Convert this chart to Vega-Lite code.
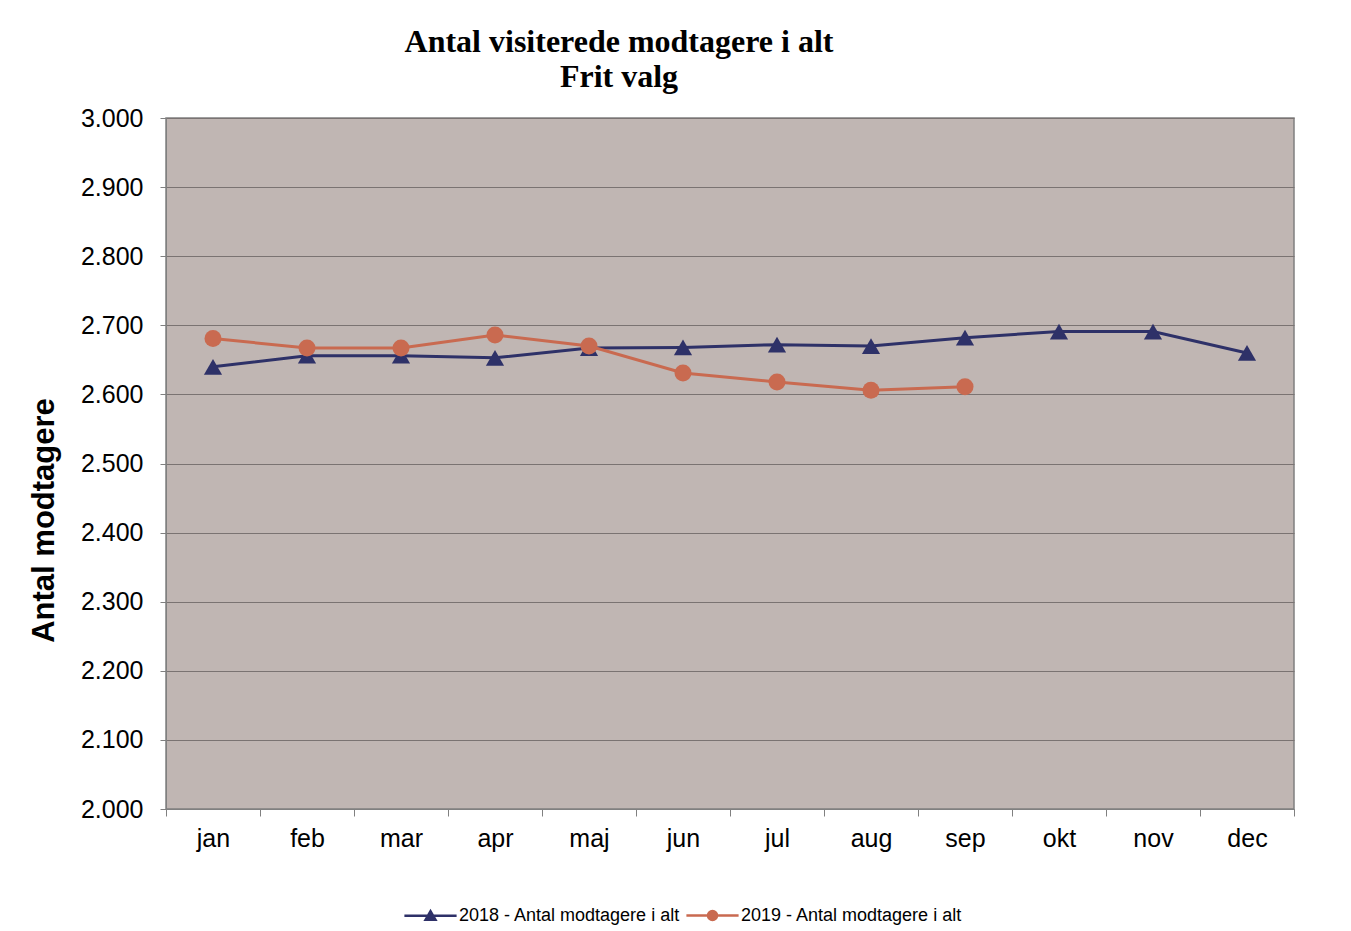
{
  "$schema": "https://vega.github.io/schema/vega-lite/v6.json",
  "autosize": {"type": "none"},
  "padding": {"left": 166, "top": 118, "right": 57, "bottom": 122},
  "width": 1128,
  "height": 691,
  "background": "white",
  "title": {
    "text": ["Antal visiterede modtagere i alt", "Frit valg"],
    "font": "Liberation Serif",
    "fontSize": 32,
    "fontWeight": "bold",
    "color": "black",
    "anchor": "middle",
    "dx": -111,
    "offset": 12,
    "lineHeight": 35
  },
  "config": {
    "view": {"stroke": "#808080", "strokeWidth": 1.5, "fill": "#C0B6B3"}
  },
  "data": {
    "values": [
      {"month": "jan", "series": "2018 - Antal modtagere i alt", "value": 2640},
      {"month": "feb", "series": "2018 - Antal modtagere i alt", "value": 2656},
      {"month": "mar", "series": "2018 - Antal modtagere i alt", "value": 2656},
      {"month": "apr", "series": "2018 - Antal modtagere i alt", "value": 2653},
      {"month": "maj", "series": "2018 - Antal modtagere i alt", "value": 2667},
      {"month": "jun", "series": "2018 - Antal modtagere i alt", "value": 2668},
      {"month": "jul", "series": "2018 - Antal modtagere i alt", "value": 2672},
      {"month": "aug", "series": "2018 - Antal modtagere i alt", "value": 2670},
      {"month": "sep", "series": "2018 - Antal modtagere i alt", "value": 2682},
      {"month": "okt", "series": "2018 - Antal modtagere i alt", "value": 2691},
      {"month": "nov", "series": "2018 - Antal modtagere i alt", "value": 2691},
      {"month": "dec", "series": "2018 - Antal modtagere i alt", "value": 2660},
      {"month": "jan", "series": "2019 - Antal modtagere i alt", "value": 2681},
      {"month": "feb", "series": "2019 - Antal modtagere i alt", "value": 2667},
      {"month": "mar", "series": "2019 - Antal modtagere i alt", "value": 2667},
      {"month": "apr", "series": "2019 - Antal modtagere i alt", "value": 2686},
      {"month": "maj", "series": "2019 - Antal modtagere i alt", "value": 2670},
      {"month": "jun", "series": "2019 - Antal modtagere i alt", "value": 2631},
      {"month": "jul", "series": "2019 - Antal modtagere i alt", "value": 2618},
      {"month": "aug", "series": "2019 - Antal modtagere i alt", "value": 2606},
      {"month": "sep", "series": "2019 - Antal modtagere i alt", "value": 2611}
    ]
  },
  "encoding": {
    "x": {
      "field": "month",
      "type": "nominal",
      "sort": ["jan", "feb", "mar", "apr", "maj", "jun", "jul", "aug", "sep", "okt", "nov", "dec"],
      "scale": {"type": "band", "paddingInner": 0, "paddingOuter": 0},
      "axis": {
        "title": null,
        "tickBand": "extent",
        "labelAngle": 0,
        "labelFont": "Liberation Sans",
        "labelFontSize": 25,
        "labelColor": "black",
        "labelPadding": 10,
        "tickSize": 7,
        "tickColor": "#808080",
        "domainColor": "#808080",
        "grid": false
      }
    },
    "y": {
      "field": "value",
      "type": "quantitative",
      "scale": {"domain": [2000, 3000], "zero": false, "nice": false},
      "axis": {
        "title": "Antal modtagere",
        "titleFont": "Liberation Sans",
        "titleFontSize": 31,
        "titleFontWeight": "bold",
        "titleColor": "black",
        "titleAngle": -90,
        "titleX": -113,
        "titleY": 402,
        "titleAlign": "center",
        "titleBaseline": "alphabetic",
        "values": [2000, 2100, 2200, 2300, 2400, 2500, 2600, 2700, 2800, 2900, 3000],
        "labelExpr": "replace(format(datum.value, ','), ',', '.')",
        "labelFont": "Liberation Sans",
        "labelFontSize": 25,
        "labelColor": "black",
        "labelPadding": 17,
        "tickSize": 6,
        "tickColor": "#808080",
        "domainColor": "#808080",
        "grid": true,
        "gridColor": "#7A7372",
        "gridWidth": 1.2
      }
    },
    "color": {
      "field": "series",
      "type": "nominal",
      "scale": {
        "domain": ["2018 - Antal modtagere i alt", "2019 - Antal modtagere i alt"],
        "range": ["#2E3168", "#C96A50"]
      },
      "legend": {
        "orient": "none",
        "legendX": 254,
        "legendY": 787,
        "direction": "horizontal",
        "title": null,
        "labelFont": "Liberation Sans",
        "labelFontSize": 18,
        "labelColor": "black",
        "labelLimit": 400,
        "symbolSize": 324,
        "labelOffset": 18,
        "columnPadding": 0,
        "encode": {
          "symbols": {
            "update": {
              "shape": {"signal": "datum.value === '2018 - Antal modtagere i alt' ? 'M-2.9,0H2.9M-0.55,0.45L0,-0.5L0.55,0.45Z' : 'M-2.9,0H2.9M0.5,0A0.5,0.5 0 1,1 -0.5,0A0.5,0.5 0 1,1 0.5,0Z'"},
              "fill": {"signal": "datum.value === '2018 - Antal modtagere i alt' ? '#2E3168' : '#C96A50'"},
              "stroke": {"signal": "datum.value === '2018 - Antal modtagere i alt' ? '#2E3168' : '#C96A50'"},
              "strokeWidth": {"value": 2.5},
              "opacity": {"value": 1},
              "fillOpacity": {"value": 1}
            }
          }
        }
      }
    }
  },
  "layer": [
    {"mark": {"type": "line", "strokeWidth": 3}},
    {
      "mark": {"type": "point", "filled": true, "opacity": 1},
      "encoding": {
        "shape": {
          "condition": {"test": "datum.series === '2018 - Antal modtagere i alt'", "value": "triangle-up"},
          "value": "circle"
        },
        "size": {
          "condition": {"test": "datum.series === '2018 - Antal modtagere i alt'", "value": 330},
          "value": 290
        }
      }
    }
  ]
}
